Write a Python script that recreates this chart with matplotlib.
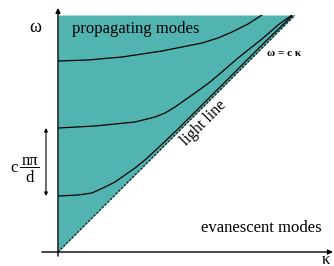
import numpy as np
import matplotlib
matplotlib.use('Agg')
import matplotlib.pyplot as plt
from matplotlib.lines import Line2D

plt.rcParams['font.family'] = ['Liberation Serif', 'DejaVu Serif']

# dispersion curves (arbitrary units, c = 1)
mode1_k = [0, 2.0, 3.4, 4.7, 5.7, 6.7, 7.7, 8.7, 10.0, 12.0, 15.0, 18.0, 21.0, 23.4]
mode1_w = [5.6, 5.7, 5.9, 6.5, 7.0, 7.7, 8.4, 9.2, 10.4, 12.3, 15.3, 18.3, 21.3, 23.6]
mode2_k = [0, 3.7, 7.7, 9.7, 10.7, 11.7, 12.7, 13.7, 15.2, 16.5, 18.0, 20.4, 22.0, 23.4]
mode2_w = [12.4, 12.6, 13.0, 13.5, 13.9, 14.5, 15.2, 15.9, 17.0, 18.1, 19.4, 21.3, 22.7, 23.7]
mode3_k = [0, 3.0, 6.4, 10.4, 14.4, 16.0, 17.4, 19.0, 20.4]
mode3_w = [19.1, 19.2, 19.5, 20.1, 20.9, 21.4, 22.0, 22.8, 23.7]
w_max = 23.7

teal = '#52b4b1'

fig = plt.figure(figsize=(3.34, 2.66), dpi=100)
ax = fig.add_axes([58 / 334, 14 / 266, 237 / 334, 237 / 266])
ax.set_xlim(0, w_max)
ax.set_ylim(0, w_max)
ax.axis('off')

# propagating region above the light line
k_line = np.array([0, w_max])
ax.fill_between(k_line, k_line, w_max, color=teal, lw=0)
ax.plot(k_line, k_line, color='k', lw=0.8, linestyle=(0, (2, 1.5)))

for k, w in [(mode1_k, mode1_w), (mode2_k, mode2_w), (mode3_k, mode3_w)]:
    ax.plot(k, w, color='k', lw=0.9)

# axes with arrows
ax.annotate('', xy=(0, 1.03), xytext=(0, -0.017), xycoords='axes fraction',
            arrowprops=dict(arrowstyle='-|>', lw=1, color='k', mutation_scale=7, shrinkA=0, shrinkB=0))
ax.annotate('', xy=(1.16, 0), xytext=(-0.068, 0), xycoords='axes fraction',
            arrowprops=dict(arrowstyle='-|>', lw=1, color='k', mutation_scale=7, shrinkA=0, shrinkB=0))

# spacing arrow between cutoffs
ax.annotate('', xy=(-1.2, mode2_w[0]), xytext=(-1.2, mode1_w[0]), annotation_clip=False,
            arrowprops=dict(arrowstyle='<|-|>', lw=0.8, color='k', mutation_scale=5, shrinkA=0, shrinkB=0))
ax.text(-4.4, 8.4, 'c', fontsize=12, ha='center', va='center')
ax.text(-2.8, 9.1, 'nπ', fontsize=12, ha='center', va='center')
ax.add_line(Line2D([-3.8, -1.9], [8.5, 8.5], color='k', lw=0.7, clip_on=False))
ax.text(-2.8, 7.4, 'd', fontsize=12, ha='center', va='center')

ax.text(-2.3, 22.5, 'ω', fontsize=13, ha='center', va='center')
ax.text(26.8, -0.75, 'κ', fontsize=12, ha='center', va='center')
ax.text(1.4, 22.3, 'propagating modes', fontsize=12, ha='left', va='center')
ax.text(20.35, 2.4, 'evanescent modes', fontsize=12, ha='center', va='center')
ax.text(14.6, 12.9, 'light line', fontsize=11.5, ha='center', va='center', rotation=45)
ax.text(22.6, 19.9, 'ω = c κ', fontsize=8, ha='center', va='center', fontweight='bold')

fig.savefig('out.png', dpi=100)
